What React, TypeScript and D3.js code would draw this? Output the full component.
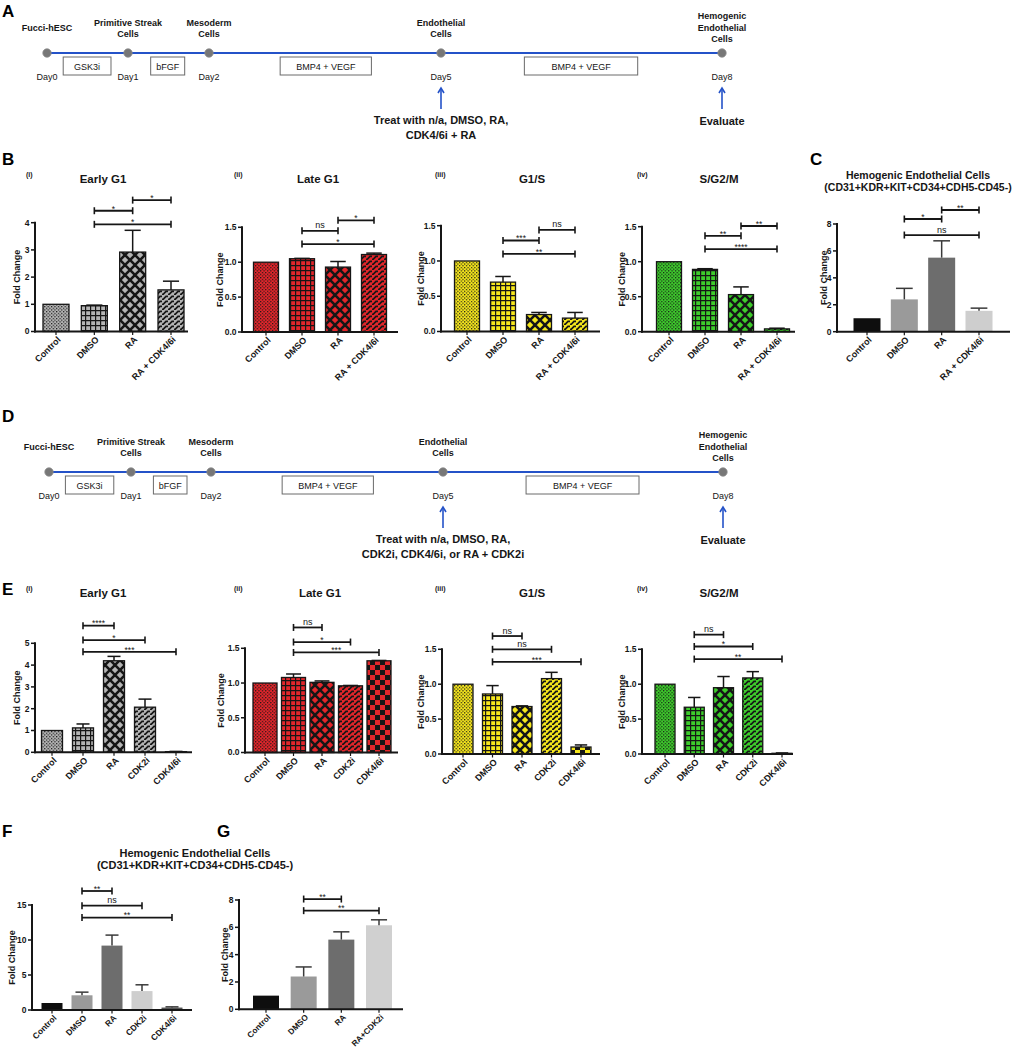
import React from "react";
import * as d3 from "d3";

const FONT = "'Liberation Sans', Arial, Helvetica, sans-serif";

// ---------------- Timeline data ----------------
const timelineDays = [0, 1, 2, 5, 8];
const timelineStages = [["Fucci-hESC"], ["Primitive Streak", "Cells"], ["Mesoderm", "Cells"], ["Endothelial", "Cells"], ["Hemogenic", "Endothelial", "Cells"]];
const timelineDayLabels = ["Day0", "Day1", "Day2", "Day5", "Day8"];
const factorLabels = ["GSK3i", "bFGF", "BMP4 + VEGF", "BMP4 + VEGF"];
const factorStart = [0.2, 1.28, 2.92, 5.89];
const factorEnd = [0.79, 1.7, 4.1, 7.1];
const treatTextA = ["Treat with n/a, DMSO, RA,", "CDK4/6i + RA"];
const treatTextD = ["Treat with n/a, DMSO, RA,", "CDK2i, CDK4/6i, or RA + CDK2i"];
const evaluateText = "Evaluate";

// ---------------- Panel B data ----------------
const bCategories = ["Control", "DMSO", "RA", "RA + CDK4/6i"];
const bEarlyG1 = [1.0, 0.95, 2.92, 1.53];
const bEarlyG1Err = [0, 0.02, 0.8, 0.32];
const bEarlyG1Ticks = [0, 1, 2, 3, 4];
const bEarlyG1Sig: [number, number, string, number][] = [[1, 2, "*", 4.44], [2, 3, "*", 4.83], [1, 3, "*", 3.94]];

const bLateG1 = [1.0, 1.05, 0.93, 1.11];
const bLateG1Err = [0, 0.005, 0.08, 0.02];
const bLateG1Ticks = [0, 0.5, 1.0, 1.5];
const bLateG1Sig: [number, number, string, number][] = [[1, 2, "ns", 1.45], [2, 3, "*", 1.6], [1, 3, "*", 1.26]];

const bG1S = [1.0, 0.7, 0.24, 0.19];
const bG1SErr = [0, 0.08, 0.03, 0.08];
const bG1STicks = [0, 0.5, 1.0, 1.5];
const bG1SSig: [number, number, string, number][] = [[1, 2, "***", 1.29], [2, 3, "ns", 1.44], [1, 3, "**", 1.1]];

const bSG2M = [1.0, 0.89, 0.53, 0.04];
const bSG2MErr = [0, 0.01, 0.11, 0.01];
const bSG2MTicks = [0, 0.5, 1.0, 1.5];
const bSG2MSig: [number, number, string, number][] = [[1, 2, "**", 1.37], [2, 3, "**", 1.51], [1, 3, "****", 1.18]];

// ---------------- Panel C data ----------------
const cCategories = ["Control", "DMSO", "RA", "RA + CDK4/6i"];
const cHEC = [1.0, 2.4, 5.5, 1.55];
const cHECErr = [0, 0.82, 1.25, 0.2];
const cTicks = [0, 2, 4, 6, 8];
const cSig: [number, number, string, number][] = [[1, 2, "*", 8.37], [2, 3, "**", 9.04], [1, 3, "ns", 7.18]];

// ---------------- Panel E data ----------------
const eCategories = ["Control", "DMSO", "RA", "CDK2i", "CDK4/6i"];
const eEarlyG1 = [1.0, 1.12, 4.2, 2.07, 0.03];
const eEarlyG1Err = [0, 0.18, 0.2, 0.37, 0.01];
const eEarlyG1Ticks = [0, 1, 2, 3, 4, 5];
const eEarlyG1Sig: [number, number, string, number][] = [[1, 2, "****", 5.81], [1, 3, "*", 5.15], [1, 4, "***", 4.61]];

const eLateG1 = [1.0, 1.08, 1.01, 0.96, 1.32];
const eLateG1Err = [0, 0.05, 0.02, 0.005, 0.005];
const eLateG1Ticks = [0, 0.5, 1.0, 1.5];
const eLateG1Sig: [number, number, string, number][] = [[1, 2, "ns", 1.8], [1, 3, "*", 1.59], [1, 4, "***", 1.44]];

const eG1S = [1.0, 0.86, 0.68, 1.08, 0.1];
const eG1SErr = [0, 0.12, 0.01, 0.09, 0.03];
const eG1STicks = [0, 0.5, 1.0, 1.5];
const eG1SSig: [number, number, string, number][] = [[1, 2, "ns", 1.69], [1, 3, "ns", 1.5], [1, 4, "***", 1.32]];

const eSG2M = [1.0, 0.67, 0.95, 1.09, 0.01];
const eSG2MErr = [0, 0.14, 0.16, 0.09, 0.005];
const eSG2MTicks = [0, 0.5, 1.0, 1.5];
const eSG2MSig: [number, number, string, number][] = [[1, 2, "ns", 1.71], [1, 3, "*", 1.54], [1, 4, "**", 1.36]];

// ---------------- Panel F / G data ----------------
const fCategories = ["Control", "DMSO", "RA", "CDK2i", "CDK4/6i"];
const fHEC = [1.0, 2.1, 9.2, 2.7, 0.35];
const fHECErr = [0, 0.45, 1.5, 0.9, 0.1];
const fTicks = [0, 5, 10, 15];
const fSig: [number, number, string, number][] = [[1, 2, "**", 17.0], [1, 3, "ns", 14.9], [1, 4, "**", 13.2]];

const gCategories = ["Control", "DMSO", "RA", "RA+CDK2i"];
const gHEC = [1.0, 2.4, 5.1, 6.15];
const gHECErr = [0, 0.7, 0.57, 0.4];
const gTicks = [0, 2, 4, 6, 8];
const gSig: [number, number, string, number][] = [[1, 2, "**", 8.07], [1, 3, "**", 7.22]];

// ---------------- Styles ----------------
const DARK = "#161616";
const BLUE = "#2452c8";
const COLORS: Record<string, string> = { gray: "#b4b4b4", red: "#e3262b", yellow: "#f6e71c", green: "#3dcc2b" };
const patFills = (key: string, n: number) => {
  const kinds = n === 4 ? ["dots", "grid", "diamond", "brick"] : ["dots", "grid", "diamond", "brick", "checker"];
  return kinds.map((k) => `url(#${key}-${k})`);
};
const solidC = ["#0e0e0e", "#9a9a9a", "#6d6d6d", "#cecece"];
const solidF = ["#0e0e0e", "#9a9a9a", "#6d6d6d", "#cecece", "#555555"];
const solidG = ["#0e0e0e", "#9a9a9a", "#6d6d6d", "#d0d0d0"];

function Patterns() {
  return (
    <defs>
      {Object.entries(COLORS).map(([k, c]) => (
        <React.Fragment key={k}>
          <pattern id={`${k}-dots`} width={3.4} height={3.4} patternUnits="userSpaceOnUse">
            <rect width={3.4} height={3.4} fill={c} />
            <rect x={0} y={0} width={1.2} height={1.2} fill={DARK} />
            <rect x={1.7} y={1.7} width={1.2} height={1.2} fill={DARK} />
          </pattern>
          <pattern id={`${k}-grid`} width={5} height={5} patternUnits="userSpaceOnUse">
            <rect width={5} height={5} fill={c} />
            <path d="M0,0.6H5M0.6,0V5" stroke={DARK} strokeWidth={1.2} />
          </pattern>
          <pattern id={`${k}-diamond`} width={10} height={10} patternUnits="userSpaceOnUse">
            <rect width={10} height={10} fill={c} />
            <path d="M-1,-1L11,11M11,-1L-1,11" stroke={DARK} strokeWidth={2.6} />
          </pattern>
          <pattern id={`${k}-brick`} width={6} height={5} patternUnits="userSpaceOnUse">
            <rect width={6} height={5} fill={c} />
            <path d="M0,4.3H1.2L4,1.3H6" stroke={DARK} strokeWidth={1.7} fill="none" />
          </pattern>
          <pattern id={`${k}-checker`} width={10} height={10} patternUnits="userSpaceOnUse">
            <rect width={10} height={10} fill={c} />
            <rect x={0} y={0} width={5} height={5} fill={DARK} />
            <rect x={5} y={5} width={5} height={5} fill={DARK} />
          </pattern>
        </React.Fragment>
      ))}
    </defs>
  );
}

type Sig = [number, number, string, number];

function BarPanel(p: {
  categories: string[];
  values: number[];
  errors: number[];
  ticks: number[];
  fmt: string;
  sig: Sig[];
  fills: string[];
  outline: boolean;
  axisX: number;
  axisEnd: number;
  y0: number;
  y1: number;
  c0: number;
  c1: number;
  barW: number;
  labelOffset: number;
  xLabelSize?: number;
}) {
  const y = d3.scaleLinear().domain([0, d3.max(p.ticks) as number]).range([p.y0, p.y1]);
  const x = d3.scalePoint<string>().domain(p.categories).range([p.c0, p.c1]);
  const f = d3.format(p.fmt);
  const capW = p.barW * 0.62;
  const errColor = p.outline ? DARK : "#3a3a3a";
  const xls = p.xLabelSize ?? 9;
  return (
    <g fontFamily={FONT}>
      {p.categories.map((c, i) => {
        const cx = x(c) as number;
        const top = y(p.values[i]);
        return (
          <rect
            key={"b" + c}
            x={cx - p.barW / 2}
            y={top}
            width={p.barW}
            height={Math.max(0, p.y0 - top)}
            fill={p.fills[i]}
            stroke={p.outline ? DARK : "none"}
            strokeWidth={1.3}
          />
        );
      })}
      {p.categories.map((c, i) => {
        if (!(p.errors[i] > 0)) return null;
        const cx = x(c) as number;
        const top = y(p.values[i]);
        const et = y(p.values[i] + p.errors[i]);
        return (
          <g key={"e" + c} stroke={errColor} strokeWidth={1.5}>
            <line x1={cx} x2={cx} y1={top} y2={et} />
            <line x1={cx - capW / 2} x2={cx + capW / 2} y1={et} y2={et} />
          </g>
        );
      })}
      {/* y axis */}
      <line x1={p.axisX} x2={p.axisX} y1={p.y1 - 1} y2={p.y0 + 1} stroke={DARK} strokeWidth={2} />
      {p.ticks.map((t) => (
        <g key={"t" + t}>
          <line x1={p.axisX - 4} x2={p.axisX} y1={y(t)} y2={y(t)} stroke={DARK} strokeWidth={1.5} />
          <text x={p.axisX - 5.5} y={y(t)} dy="0.35em" textAnchor="end" fontSize={8.5} fontWeight="bold" fill={DARK}>
            {f(t)}
          </text>
        </g>
      ))}
      {/* x axis */}
      <line x1={p.axisX - 1} x2={p.axisEnd} y1={p.y0} y2={p.y0} stroke={DARK} strokeWidth={2} />
      {p.categories.map((c) => {
        const cx = x(c) as number;
        return (
          <g key={"x" + c}>
            <line x1={cx} x2={cx} y1={p.y0} y2={p.y0 + 3.5} stroke={DARK} strokeWidth={1.2} />
            <text
              transform={`translate(${cx + 3},${p.y0 + 6.5}) rotate(-45)`}
              dy="0.35em"
              textAnchor="end"
              fontSize={xls}
              fontWeight="bold"
              fill={DARK}
            >
              {c}
            </text>
          </g>
        );
      })}
      <text
        transform={`translate(${p.axisX - p.labelOffset},${(p.y0 + p.y1) / 2}) rotate(-90)`}
        dy="0.35em"
        textAnchor="middle"
        fontSize={9}
        fontWeight="bold"
        fill={DARK}
      >
        Fold Change
      </text>
      {p.sig.map(([a, b, lab, lev], k) => {
        const xa = x(p.categories[a]) as number;
        const xb = x(p.categories[b]) as number;
        const yy = y(lev);
        const isNs = lab === "ns";
        return (
          <g key={"s" + k}>
            <line x1={xa} x2={xb} y1={yy} y2={yy} stroke={DARK} strokeWidth={1.8} />
            <line x1={xa} x2={xa} y1={yy - 3.5} y2={yy + 3.5} stroke={DARK} strokeWidth={1.6} />
            <line x1={xb} x2={xb} y1={yy - 3.5} y2={yy + 3.5} stroke={DARK} strokeWidth={1.6} />
            <text
              x={(xa + xb) / 2}
              y={isNs ? yy - 2.5 : yy + 0.8}
              textAnchor="middle"
              fontSize={isNs ? 9 : 8.5}
              fill={DARK}
            >
              {lab}
            </text>
          </g>
        );
      })}
    </g>
  );
}

function Timeline(p: { L: number; range: number[]; treat: string[] }) {
  const x = d3.scaleLinear().domain(timelineDays).range(p.range);
  const L = p.L;
  const stageOffsets: Record<number, number[]> = { 1: [-22], 2: [-27, -16], 3: [-34, -22.5, -11] };
  const lastDay = timelineDays[timelineDays.length - 1];
  return (
    <g fontFamily={FONT} fill={DARK}>
      <line x1={x(timelineDays[0])} x2={x(lastDay)} y1={L} y2={L} stroke={BLUE} strokeWidth={2} />
      {factorLabels.map((lab, i) => (
        <g key={"f" + i}>
          <rect
            x={x(factorStart[i])}
            y={L + 4}
            width={x(factorEnd[i]) - x(factorStart[i])}
            height={18}
            fill="#fff"
            stroke="#6a6a6a"
            strokeWidth={1}
          />
          <text x={(x(factorStart[i]) + x(factorEnd[i])) / 2} y={L + 16.5} textAnchor="middle" fontSize={9}>
            {lab}
          </text>
        </g>
      ))}
      {timelineDays.map((d, i) => (
        <g key={"d" + d}>
          <circle cx={x(d)} cy={L} r={4.2} fill="#777" stroke="#8a8a8a" strokeWidth={0.8} />
          {timelineStages[i].map((s, j) => (
            <text key={j} x={x(d)} y={L + stageOffsets[timelineStages[i].length][j]} textAnchor="middle" fontSize={9} fontWeight="bold">
              {s}
            </text>
          ))}
          <text x={x(d)} y={L + 26.5} textAnchor="middle" fontSize={9}>
            {timelineDayLabels[i]}
          </text>
        </g>
      ))}
      {[5, 8].map((d) => (
        <g key={"a" + d} stroke={BLUE} strokeWidth={1.6} fill="none">
          <line x1={x(d)} x2={x(d)} y1={L + 56} y2={L + 35.5} />
          <polyline points={`${x(d) - 3},${L + 40} ${x(d)},${L + 35} ${x(d) + 3},${L + 40}`} />
        </g>
      ))}
      {p.treat.map((t, i) => (
        <text key={"tr" + i} x={x(5)} y={L + 71 + i * 15} textAnchor="middle" fontSize={11} fontWeight="bold">
          {t}
        </text>
      ))}
      <text x={x(8)} y={L + 72} textAnchor="middle" fontSize={11} fontWeight="bold">
        {evaluateText}
      </text>
    </g>
  );
}

const PanelLetter = ({ x, y, t }: { x: number; y: number; t: string }) => (
  <text x={x} y={y} fontFamily={FONT} fontSize={17} fontWeight="bold" fill="#000">
    {t}
  </text>
);

const SubTitle = ({ x, y, roman, tx, title }: { x: number; y: number; roman: string; tx: number; title: string }) => (
  <g fontFamily={FONT} fill={DARK} fontWeight="bold">
    <text x={x} y={y} fontSize={7}>
      {roman}
    </text>
    <text x={tx} y={y + 6} fontSize={11.5} textAnchor="middle">
      {title}
    </text>
  </g>
);

export default function App() {
  return (
    <svg width={1019} height={1049} style={{ position: "absolute", left: 0, top: 0 }} xmlns="http://www.w3.org/2000/svg">
      <rect width={1019} height={1049} fill="#fff" />
      <Patterns />

      {/* Panel A */}
      <PanelLetter x={2} y={17} t="A" />
      <Timeline L={53} range={[47, 128, 209, 441, 722]} treat={treatTextA} />

      {/* Panel B */}
      <PanelLetter x={2} y={165} t="B" />
      <SubTitle x={26} y={177} roman="(i)" tx={103} title="Early G1" />
      <SubTitle x={234} y={177} roman="(ii)" tx={318} title="Late G1" />
      <SubTitle x={435} y={177} roman="(iii)" tx={532} title="G1/S" />
      <SubTitle x={637} y={177} roman="(iv)" tx={719} title="S/G2/M" />
      <BarPanel categories={bCategories} values={bEarlyG1} errors={bEarlyG1Err} ticks={bEarlyG1Ticks} fmt="d" sig={bEarlyG1Sig}
        fills={patFills("gray", 4)} outline axisX={35} axisEnd={188} y0={331.5} y1={222.7} c0={56} c1={171} barW={26} labelOffset={18} />
      <BarPanel categories={bCategories} values={bLateG1} errors={bLateG1Err} ticks={bLateG1Ticks} fmt=".1f" sig={bLateG1Sig}
        fills={patFills("red", 4)} outline axisX={242} axisEnd={398} y0={332} y1={227.3} c0={266} c1={374} barW={25} labelOffset={22} />
      <BarPanel categories={bCategories} values={bG1S} errors={bG1SErr} ticks={bG1STicks} fmt=".1f" sig={bG1SSig}
        fills={patFills("yellow", 4)} outline axisX={441} axisEnd={600} y0={331.5} y1={225.7} c0={467} c1={575} barW={25} labelOffset={20} />
      <BarPanel categories={bCategories} values={bSG2M} errors={bSG2MErr} ticks={bSG2MTicks} fmt=".1f" sig={bSG2MSig}
        fills={patFills("green", 4)} outline axisX={642} axisEnd={795} y0={331.7} y1={226.7} c0={669} c1={777} barW={25} labelOffset={20} />

      {/* Panel C */}
      <PanelLetter x={810} y={165} t="C" />
      <g fontFamily={FONT} fontWeight="bold" fill={DARK} fontSize={10.5} textAnchor="middle">
        <text x={918} y={179}>Hemogenic Endothelial Cells</text>
        <text x={918} y={191}>(CD31+KDR+KIT+CD34+CDH5-CD45-)</text>
      </g>
      <BarPanel categories={cCategories} values={cHEC} errors={cHECErr} ticks={cTicks} fmt="d" sig={cSig}
        fills={solidC} outline={false} axisX={837} axisEnd={1010} y0={331.7} y1={224} c0={867} c1={979} barW={27} labelOffset={13} />

      {/* Panel D */}
      <PanelLetter x={2} y={422} t="D" />
      <Timeline L={472} range={[49, 131, 211, 443, 723]} treat={treatTextD} />

      {/* Panel E */}
      <PanelLetter x={2} y={595} t="E" />
      <SubTitle x={26} y={591} roman="(i)" tx={103} title="Early G1" />
      <SubTitle x={234} y={591} roman="(ii)" tx={320} title="Late G1" />
      <SubTitle x={435} y={591} roman="(iii)" tx={532} title="G1/S" />
      <SubTitle x={637} y={591} roman="(iv)" tx={719} title="S/G2/M" />
      <BarPanel categories={eCategories} values={eEarlyG1} errors={eEarlyG1Err} ticks={eEarlyG1Ticks} fmt="d" sig={eEarlyG1Sig}
        fills={patFills("gray", 5)} outline axisX={35} axisEnd={192} y0={752.3} y1={643.3} c0={52} c1={176} barW={21} labelOffset={18} />
      <BarPanel categories={eCategories} values={eLateG1} errors={eLateG1Err} ticks={eLateG1Ticks} fmt=".1f" sig={eLateG1Sig}
        fills={patFills("red", 5)} outline axisX={245} axisEnd={398} y0={752.5} y1={648.3} c0={265} c1={379} barW={24} labelOffset={24} />
      <BarPanel categories={eCategories} values={eG1S} errors={eG1SErr} ticks={eG1STicks} fmt=".1f" sig={eG1SSig}
        fills={patFills("yellow", 5)} outline axisX={442} axisEnd={600} y0={754} y1={649.3} c0={463} c1={581} barW={20} labelOffset={21} />
      <BarPanel categories={eCategories} values={eSG2M} errors={eSG2MErr} ticks={eSG2MTicks} fmt=".1f" sig={eSG2MSig}
        fills={patFills("green", 5)} outline axisX={642} axisEnd={793} y0={754} y1={649.3} c0={665} c1={782} barW={20} labelOffset={20} />

      {/* Panel F & G */}
      <PanelLetter x={2} y={837} t="F" />
      <PanelLetter x={217} y={837} t="G" />
      <g fontFamily={FONT} fontWeight="bold" fill={DARK} fontSize={11} textAnchor="middle">
        <text x={195} y={857}>Hemogenic Endothelial Cells</text>
        <text x={195} y={869}>(CD31+KDR+KIT+CD34+CDH5-CD45-)</text>
      </g>
      <BarPanel categories={fCategories} values={fHEC} errors={fHECErr} ticks={fTicks} fmt="d" sig={fSig}
        fills={solidF} outline={false} axisX={32} axisEnd={192} y0={1010} y1={905} c0={52} c1={172} barW={21} labelOffset={20} xLabelSize={8.4} />
      <BarPanel categories={gCategories} values={gHEC} errors={gHECErr} ticks={gTicks} fmt="d" sig={gSig}
        fills={solidG} outline={false} axisX={239} axisEnd={403} y0={1009.3} y1={900} c0={266} c1={379} barW={26} labelOffset={14} xLabelSize={8.2} />
    </svg>
  );
}
